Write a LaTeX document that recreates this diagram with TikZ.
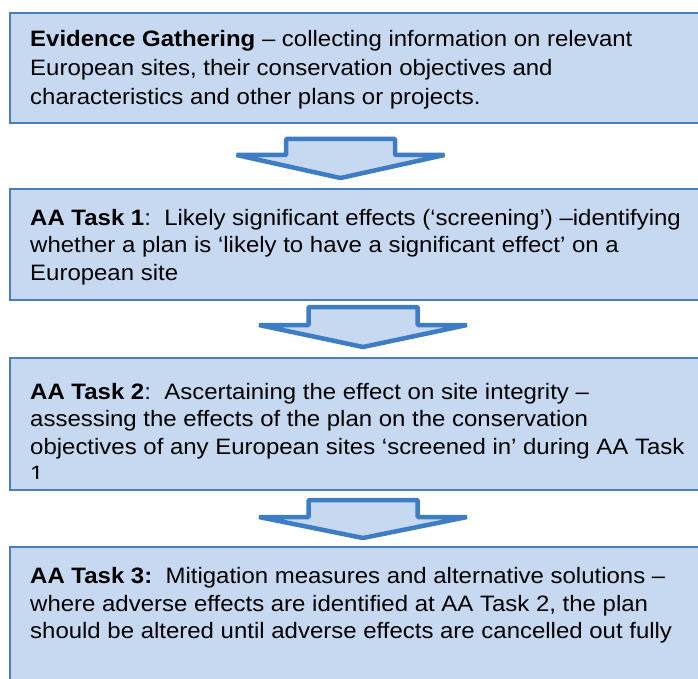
\documentclass[tikz,border=0pt]{standalone}
\usepackage{fontspec}
\setmainfont{Liberation Sans}[FakeStretch=1.075]
\definecolor{boxfill}{RGB}{198,217,241}
\definecolor{boxline}{RGB}{74,126,187}
\definecolor{arrline}{RGB}{62,124,196}
\tikzset{
  stagebox/.style={draw=boxline, line width=2pt, fill=boxfill, anchor=north west, inner sep=0pt, minimum width=720pt},
  stagetext/.style={anchor=base west, align=left, inner sep=0pt, font=\fontsize{22.3}{27.5}\selectfont},
  blockarrow/.style={draw=arrline, fill=boxfill, line width=4.5pt, line join=bevel}
}
\newcommand{\blockarr}[4]{% cx, top, shoulder, tip
  \draw[blockarrow] (#1-54.5,#2) -- (#1+54.5,#2) -- (#1+54.5,#3) -- (#1+104,#3) -- (#1,#4) -- (#1-104,#3) -- (#1-54.5,#3) -- cycle;}
\begin{document}
\begin{tikzpicture}[x=1pt,y=-1pt]
\useasboundingbox (0,0) rectangle (698,679);
\clip (0,0) rectangle (698,679);
\node[stagebox, minimum height=110pt] (b1) at (9,12) {};
\node[stagebox, minimum height=111pt] (b2) at (9,188) {};
\node[stagebox, minimum height=132pt] (b3) at (9,357) {};
\node[stagebox, minimum height=160pt] (b4) at (9,546) {};
% anchor base = baseline of last line
\node[stagetext, font=\fontsize{22.3}{29}\selectfont] (t1) at (30,47+58) {\textbf{Evidence Gathering} – collecting information on relevant\\European sites, their conservation objectives and\\characteristics and other plans or projects.};
\node[stagetext] (t2) at (30,225+55) {\textbf{AA Task 1}:\ \ Likely significant effects (‘screening’) –identifying\\whether a plan is ‘likely to have a significant effect’ on a\\European site};
\begin{scope}
\clip (10,358) rectangle (698,478);
\node[stagetext] (t3) at (30,399+82.5) {\textbf{AA Task 2}:\ \ Ascertaining the effect on site integrity –\\assessing the effects of the plan on the conservation\\objectives of any European sites ‘screened in’ during AA Task\\1};
\end{scope}
\node[stagetext] (t4) at (30,583.5+55) {\textbf{AA Task 3:}\ \ Mitigation measures and alternative solutions –\\where adverse effects are identified at AA Task 2, the plan\\should be altered until adverse effects are cancelled out fully};
\blockarr{340.5}{139}{155}{178}
\blockarr{363}{307}{325}{347}
\blockarr{363}{500}{517}{538}
\end{tikzpicture}
\end{document}
